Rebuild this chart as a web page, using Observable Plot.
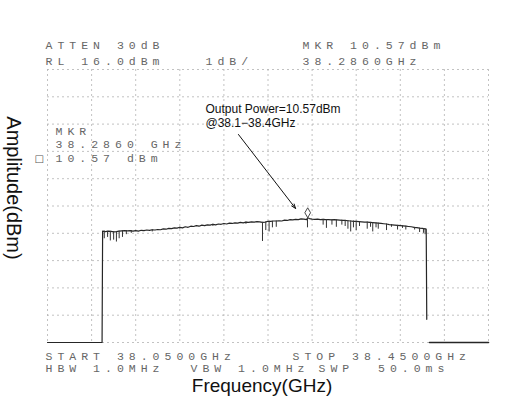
<!DOCTYPE html>
<html>
<head>
<meta charset="utf-8">
<script src="https://cdn.jsdelivr.net/npm/d3@7"></script>
<script src="https://cdn.jsdelivr.net/npm/@observablehq/plot@0.6"></script>
<style>
  html, body { margin: 0; padding: 0; background: #fff; }
  svg g[font-family="Liberation Mono"] text { letter-spacing: 5px; }
</style>
</head>
<body>
<div id="chart"></div>
<script>
// ---- Data (spectrum analyzer trace) ----
const freq = [
  38.0500, 38.0995,
  38.1000, 38.1025, 38.1050, 38.1075, 38.1100, 38.1125, 38.1150, 38.1175, 38.1200, 38.1225,
  38.1250, 38.1275, 38.1300, 38.1325, 38.1350, 38.1375, 38.1400, 38.1425, 38.1450, 38.1475,
  38.1500, 38.1525, 38.1550, 38.1575, 38.1600, 38.1625, 38.1650, 38.1675, 38.1700, 38.1725,
  38.1750, 38.1775, 38.1800, 38.1825, 38.1850, 38.1875, 38.1900, 38.1925, 38.1950, 38.1975,
  38.2000, 38.2025, 38.2050, 38.2075, 38.2100, 38.2125, 38.2150, 38.2175, 38.2200, 38.2225,
  38.2250, 38.2275, 38.2300, 38.2325, 38.2350, 38.2375, 38.2400, 38.2425, 38.2450, 38.2475,
  38.2500, 38.2525, 38.2550, 38.2575, 38.2600, 38.2625, 38.2650, 38.2675, 38.2700, 38.2725,
  38.2750, 38.2775, 38.2800, 38.2825, 38.2850, 38.2860, 38.2875, 38.2900, 38.2925, 38.2950,
  38.2975, 38.3000, 38.3025, 38.3050, 38.3075, 38.3100, 38.3125, 38.3150, 38.3175, 38.3200,
  38.3225, 38.3250, 38.3275, 38.3300, 38.3325, 38.3350, 38.3375, 38.3400, 38.3425, 38.3450,
  38.3475, 38.3500, 38.3525, 38.3550, 38.3575, 38.3600, 38.3625, 38.3650, 38.3675, 38.3700,
  38.3725, 38.3750, 38.3775, 38.3800, 38.3825, 38.3850, 38.3875, 38.3900, 38.3925, 38.3935,
  38.3940
];
const level = [
  6.00, 6.00,
  10.08, 10.06, 10.08, 10.07, 10.05, 10.06, 10.08, 10.09, 10.10, 10.09,
  10.10, 10.08, 10.10, 10.08, 10.11, 10.10, 10.12, 10.11, 10.13, 10.12,
  10.14, 10.13, 10.16, 10.15, 10.18, 10.17, 10.20, 10.19, 10.22, 10.20,
  10.24, 10.22, 10.26, 10.25, 10.28, 10.26, 10.30, 10.28, 10.31, 10.30,
  10.33, 10.31, 10.34, 10.33, 10.36, 10.34, 10.37, 10.36, 10.38, 10.37,
  10.40, 10.38, 10.41, 10.40, 10.42, 10.41, 10.43, 10.42, 10.40, 10.41,
  10.44, 10.44, 10.45, 10.45, 10.46, 10.45, 10.48, 10.47, 10.50, 10.49,
  10.51, 10.50, 10.53, 10.52, 10.50, 10.57, 10.54, 10.52, 10.51, 10.52,
  10.50, 10.51, 10.50, 10.50, 10.49, 10.50, 10.49, 10.48, 10.47, 10.47,
  10.46, 10.45, 10.44, 10.44, 10.43, 10.42, 10.41, 10.41, 10.40, 10.39,
  10.38, 10.37, 10.36, 10.35, 10.34, 10.32, 10.31, 10.30, 10.29, 10.28,
  10.27, 10.26, 10.25, 10.24, 10.22, 10.21, 10.19, 10.18, 10.16, 10.15,
  6.85
];
// narrow downward spikes on the trace: frequency, level at top, level at bottom
const dipFreq = [
  38.1015, 38.1045, 38.1070, 38.1100, 38.1125, 38.1150, 38.1180, 38.1215, 38.1260,
  38.1450, 38.1700, 38.2000, 38.2300,
  38.2450, 38.2480, 38.2510, 38.2540, 38.2575, 38.2858,
  38.3000, 38.3030, 38.3080, 38.3120, 38.3170, 38.3200, 38.3225, 38.3250, 38.3275, 38.3300,
  38.3330, 38.3400, 38.3430, 38.3450, 38.3480, 38.3500, 38.3575, 38.3620, 38.3675, 38.3720,
  38.3750, 38.3830, 38.3875, 38.3910, 38.3925
];
const dipTop = [
  10.08, 10.07, 10.07, 10.06, 10.06, 10.08, 10.09, 10.10, 10.10,
  10.13, 10.22, 10.33, 10.41,
  10.40, 10.41, 10.44, 10.44, 10.45, 10.55,
  10.51, 10.50, 10.50, 10.49, 10.48, 10.47, 10.46, 10.45, 10.45, 10.44,
  10.43, 10.41, 10.40, 10.39, 10.38, 10.37, 10.34, 10.32, 10.29, 10.27,
  10.26, 10.22, 10.19, 10.17, 10.16
];
const dipBottom = [
  9.80, 9.85, 9.72, 9.75, 9.68, 9.80, 9.85, 9.95, 10.00,
  10.05, 10.15, 10.25, 10.33,
  9.70, 10.10, 10.05, 10.20, 10.22, 10.20,
  10.30, 10.18, 10.30, 10.22, 10.30, 10.25, 10.15, 10.05, 10.20, 10.10,
  10.25, 10.15, 10.22, 10.05, 10.20, 10.15, 10.10, 10.22, 10.12, 10.18,
  10.12, 10.12, 10.03, 10.00, 9.95
];
const floorFreq = [38.3965, 38.4500];
const floorLevel = [6.00, 6.00];

const markerFreq = 38.286;
const markerLevel = 10.57;

const xDomain = [38.05, 38.45];
const yDomain = [6, 16];
const xTicks = [38.05, 38.09, 38.13, 38.17, 38.21, 38.25, 38.29, 38.33, 38.37, 38.41, 38.45];
const yTicks = [6, 7, 8, 9, 10, 11, 12, 13, 14, 15, 16];

const arrowStart = [38.2232, 13.62];
const arrowEnd = [38.2750, 10.91];
const noteLines = ["Output Power=10.57dBm", "@38.1\u221238.4GHz"];
const notePos = [38.1933, 14.32];

const headerLeft = ["ATTEN 30dB", "RL 16.0dBm"];
const headerMid = "1dB/";
const headerRight = ["MKR 10.57dBm", "38.2860GHz"];
const readout = ["MKR", "38.2860 GHz", "10.57 dBm"];
const footerStart = "START 38.0500GHz";
const footerStop = "STOP 38.4500GHz";
const footerBw = ["HBW 1.0MHz", "VBW 1.0MHz", "SWP  50.0ms"];
const xLabel = "Frequency(GHz)";
const yLabel = "Amplitude(dBm)";

// ---- Build ----
const trace = freq.map((f, i) => ({f, a: level[i]}));
const dips = dipFreq.map((f, i) => ({f, top: dipTop[i], bottom: dipBottom[i]}));
const floor = floorFreq.map((f, i) => ({f, a: floorLevel[i]}));

const mono = {fontFamily: "Liberation Mono", fontSize: 11.5, fill: "#666", textAnchor: "start", lineAnchor: "middle"};
const lab = (s, anchor, dx, dy, extra = {}) =>
  Plot.text([s], {text: d => d, frameAnchor: anchor, dx, dy, ...mono, ...extra});

const chart = Plot.plot({
  width: 506,
  height: 401,
  marginLeft: 47,
  marginRight: 18,
  marginTop: 69,
  marginBottom: 59,
  x: {domain: xDomain, axis: null},
  y: {domain: yDomain, axis: null},
  style: {background: "#fff", overflow: "visible"},
  marks: [
    Plot.ruleX(xTicks, {stroke: "#b3b3b3", strokeWidth: 0.8, strokeDasharray: "2,3"}),
    Plot.ruleY(yTicks, {stroke: "#b3b3b3", strokeWidth: 0.8, strokeDasharray: "2,3"}),
    Plot.line(trace, {x: "f", y: "a", stroke: "#262626", strokeWidth: 1.2, curve: "linear"}),
    Plot.ruleX(dips, {x: "f", y1: "top", y2: "bottom", stroke: "#333", strokeWidth: 1}),
    Plot.line(floor, {x: "f", y: "a", stroke: "#262626", strokeWidth: 1.6}),
    Plot.dot([{f: markerFreq, a: markerLevel}], {x: "f", y: "a", symbol: "diamond", r: 3, stroke: "#333", fill: "#fff", strokeWidth: 0.9, dy: -5}),
    Plot.arrow([{x1: arrowStart[0], y1: arrowStart[1], x2: arrowEnd[0], y2: arrowEnd[1]}],
      {x1: "x1", y1: "y1", x2: "x2", y2: "y2", stroke: "#111", strokeWidth: 1, headLength: 7, headAngle: 40, insetEnd: 0}),
    Plot.text([noteLines.join("\n")], {x: () => notePos[0], y: () => notePos[1], text: d => d,
      fontFamily: "Liberation Sans", fontSize: 12, fill: "#111", textAnchor: "start", lineAnchor: "middle", lineHeight: 1.2}),
    // analyzer header
    lab(headerLeft[0], "top-left", -2, -24),
    lab(headerLeft[1], "top-left", -2, -8),
    lab(headerMid, "top-left", 158, -8),
    lab(headerRight[0], "top-left", 255, -24),
    lab(headerRight[1], "top-left", 255, -8),
    // marker readout
    lab(readout[0], "top-left", 8, 62),
    lab(readout[1], "top-left", 8, 75),
    lab(readout[2], "top-left", 8, 89),
    Plot.text(["\u25A1"], {text: d => d, frameAnchor: "top-left", dx: -13, dy: 85, fontSize: 10, fill: "#555", fontFamily: "DejaVu Sans"}),
    // footer
    lab(footerStart, "bottom-left", -2, 14),
    lab(footerStop, "bottom-left", 245, 14),
    lab(footerBw[0], "bottom-left", -2, 26),
    lab(footerBw[1], "bottom-left", 143, 26),
    lab(footerBw[2], "bottom-left", 271, 26),
    // axis titles
    Plot.text([xLabel], {text: d => d, frameAnchor: "bottom", dx: -6, dy: 43, fontFamily: "Liberation Sans", fontSize: 19, fill: "#111", lineAnchor: "middle"}),
    Plot.text([yLabel], {text: d => d, frameAnchor: "left", dx: -34, dy: -18, rotate: 90, fontFamily: "Liberation Sans", fontSize: 20, fill: "#111", lineAnchor: "middle", textAnchor: "middle"})
  ]
});
document.getElementById("chart").appendChild(chart);
</script>
</body>
</html>
